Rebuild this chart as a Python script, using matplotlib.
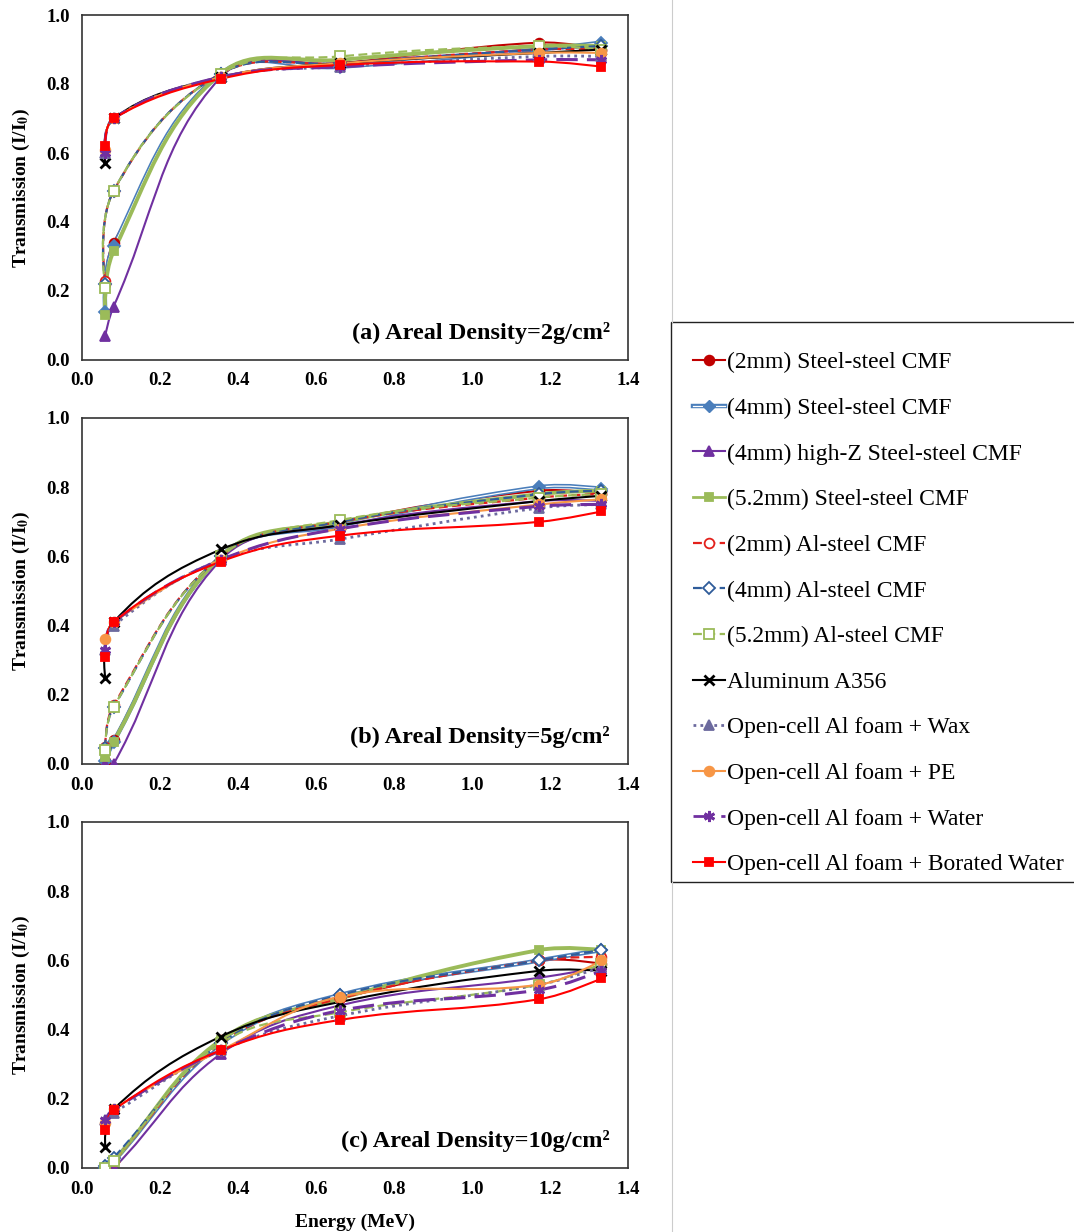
import numpy as np
import matplotlib.pyplot as plt
from matplotlib.path import Path
from matplotlib.patches import PathPatch, Rectangle
from matplotlib.lines import Line2D
from matplotlib.legend_handler import HandlerTuple

plt.rcParams['font.family'] = ['Liberation Serif', 'DejaVu Serif']
plt.rcParams['mathtext.fontset'] = 'stix'

# gamma energies (MeV)
energy = [0.0595, 0.081, 0.356, 0.662, 1.173, 1.332]

names = ['(2mm) Steel-steel CMF', '(4mm) Steel-steel CMF',
         '(4mm) high-Z Steel-steel CMF', '(5.2mm) Steel-steel CMF',
         '(2mm) Al-steel CMF', '(4mm) Al-steel CMF', '(5.2mm) Al-steel CMF',
         'Aluminum A356', 'Open-cell Al foam + Wax', 'Open-cell Al foam + PE',
         'Open-cell Al foam + Water', 'Open-cell Al foam + Borated Water']

# transmission I/I0, areal density 2 g/cm2
t2_ss2 = [0.22, 0.34, 0.83, 0.86, 0.92, 0.90]
t2_ss4 = [0.14, 0.33, 0.83, 0.85, 0.90, 0.92]
t2_hz4 = [0.07, 0.155, 0.82, 0.86, 0.90, 0.91]
t2_ss52 = [0.13, 0.315, 0.83, 0.87, 0.91, 0.91]
t2_al2 = [0.23, 0.49, 0.83, 0.86, 0.90, 0.90]
t2_al4 = [0.22, 0.49, 0.83, 0.86, 0.90, 0.91]
t2_al52 = [0.21, 0.49, 0.83, 0.88, 0.91, 0.90]
t2_a356 = [0.57, 0.70, 0.82, 0.86, 0.89, 0.90]
t2_wax = [0.60, 0.70, 0.82, 0.85, 0.88, 0.88]
t2_pe = [0.61, 0.70, 0.82, 0.86, 0.89, 0.89]
t2_water = [0.60, 0.70, 0.82, 0.85, 0.87, 0.87]
t2_boron = [0.62, 0.70, 0.815, 0.855, 0.865, 0.85]

# 5 g/cm2
t5_ss2 = [0.01, 0.07, 0.60, 0.70, 0.79, 0.78]
t5_ss4 = [0.01, 0.065, 0.60, 0.69, 0.80, 0.795]
t5_hz4 = [0.0, 0.0, 0.59, 0.69, 0.76, 0.76]
t5_ss52 = [0.02, 0.065, 0.60, 0.70, 0.78, 0.79]
t5_al2 = [0.05, 0.17, 0.60, 0.70, 0.77, 0.78]
t5_al4 = [0.045, 0.165, 0.60, 0.70, 0.78, 0.79]
t5_al52 = [0.04, 0.165, 0.60, 0.705, 0.77, 0.78]
t5_a356 = [0.25, 0.41, 0.62, 0.69, 0.76, 0.775]
t5_wax = [0.33, 0.40, 0.59, 0.65, 0.74, 0.75]
t5_pe = [0.36, 0.41, 0.59, 0.68, 0.75, 0.765]
t5_water = [0.33, 0.41, 0.59, 0.68, 0.745, 0.75]
t5_boron = [0.31, 0.41, 0.585, 0.66, 0.70, 0.73]

# 10 g/cm2
t10_ss2 = [0.0, 0.02, 0.37, 0.49, 0.60, 0.59]
t10_ss4 = [0.0, 0.02, 0.36, 0.50, 0.60, 0.63]
t10_hz4 = [0.0, 0.0, 0.33, 0.47, 0.55, 0.58]
t10_ss52 = [0.0, 0.02, 0.37, 0.49, 0.63, 0.63]
t10_al2 = [0.0, 0.02, 0.36, 0.49, 0.60, 0.61]
t10_al4 = [0.005, 0.03, 0.36, 0.50, 0.60, 0.63]
t10_al52 = [0.0, 0.02, 0.36, 0.45, 0.53, 0.59]
t10_a356 = [0.062, 0.17, 0.38, 0.48, 0.57, 0.57]
t10_wax = [0.14, 0.16, 0.34, 0.44, 0.53, 0.58]
t10_pe = [0.13, 0.17, 0.34, 0.495, 0.53, 0.60]
t10_water = [0.14, 0.17, 0.34, 0.455, 0.515, 0.57]
t10_boron = [0.11, 0.168, 0.34, 0.428, 0.488, 0.548]

panels = [
    ('(a) Areal Density=2g/cm\u00b2', [t2_ss2, t2_ss4, t2_hz4, t2_ss52, t2_al2, t2_al4,
                                      t2_al52, t2_a356, t2_wax, t2_pe, t2_water, t2_boron]),
    ('(b) Areal Density=5g/cm\u00b2', [t5_ss2, t5_ss4, t5_hz4, t5_ss52, t5_al2, t5_al4,
                                      t5_al52, t5_a356, t5_wax, t5_pe, t5_water, t5_boron]),
    ('(c) Areal Density=10g/cm\u00b2', [t10_ss2, t10_ss4, t10_hz4, t10_ss52, t10_al2, t10_al4,
                                       t10_al52, t10_a356, t10_wax, t10_pe, t10_water, t10_boron]),
]

# color, linestyle, linewidth, marker, marker face, marker size
styles = [
    ('#C00000', '-', 1.5, 'o', None, 7),
    ('#4A7EBB', 'double', 3.2, 'D', None, 6),
    ('#7030A0', '-', 1.5, '^', None, 7),
    ('#9BBB59', '-', 2.8, 's', None, 6),
    ('#E3201B', (0, (4, 2)), 1.6, 'o', 'white', 7),
    ('#2F5C9A', (0, (4, 2)), 1.6, 'D', 'white', 6),
    ('#9BBB59', (0, (4, 2)), 1.6, 's', 'white', 7),
    ('#000000', '-', 1.5, 'x', None, 7),
    ('#6C6A9E', (0, (1, 1.5)), 2.0, '^', None, 7),
    ('#F79646', '-', 1.5, 'o', None, 7),
    ('#7030A0', (0, (7, 3)), 2.2, (6, 2, 0), None, 8),
    ('#FF0000', '-', 1.5, 's', None, 6),
]

XS = 390.0 / 345.0  # x/y pixel ratio of the panels


def smooth_path(x, y, t=0.4):
    # excel-like smoothed line: bezier segments through the data points
    pts = np.column_stack([np.asarray(x, float) * XS, np.asarray(y, float)])
    n = len(pts)
    cin = pts.copy()
    cout = pts.copy()
    for i in range(1, n - 1):
        p0, p1, p2 = pts[i - 1], pts[i], pts[i + 1]
        d01 = np.hypot(*(p1 - p0))
        d12 = np.hypot(*(p2 - p1))
        fa = t * d01 / (d01 + d12)
        fb = t * d12 / (d01 + d12)
        cin[i] = p1 - fa * (p2 - p0)
        cout[i] = p1 + fb * (p2 - p0)
    verts = [pts[0]]
    codes = [Path.MOVETO]
    for i in range(n - 1):
        verts += [cout[i], cin[i + 1], pts[i + 1]]
        codes += [Path.CURVE4] * 3
    verts = np.array(verts)
    verts[:, 0] /= XS
    return Path(verts, codes)


fig = plt.figure(figsize=(10.74, 12.32), dpi=100)
W, H = 1074.0, 1232.0
boxes = [(15, 360), (418, 764), (822, 1168)]
handles = None

for (title, series), (top, bot) in zip(panels, boxes):
    ax = fig.add_axes([82 / W, 1 - bot / H, (628 - 82) / W, (bot - top) / H])
    hs = []
    for vals, (col, ls, lw, mk, mfc, ms), name in zip(series, styles, names):
        p = smooth_path(energy, vals)
        if ls == 'double':
            ax.add_patch(PathPatch(p, fill=False, ec=col, lw=lw, zorder=2))
            ax.add_patch(PathPatch(p, fill=False, ec='white', lw=0.9, zorder=2))
        else:
            ax.add_patch(PathPatch(p, fill=False, ec=col, lw=lw, ls=ls, zorder=2))
        face = col if mfc is None else mfc
        mew = 2.0 if mk == 'x' or isinstance(mk, tuple) else 1.3
        ax.plot(energy, vals, ls='none', marker=mk, ms=ms, mfc=face, mec=col,
                mew=mew, zorder=3)
        if ls == 'double':
            h = (Line2D([], [], color=col, lw=lw),
                 Line2D([], [], color='white', lw=0.9),
                 Line2D([], [], ls='none', marker=mk, ms=ms, mfc=face, mec=col))
        else:
            h = Line2D([], [], color=col, lw=min(lw, 2.0), ls=ls, marker=mk, ms=ms,
                       mfc=face, mec=col, mew=mew)
        hs.append(h)
    handles = hs

    ax.set_xlim(0, 1.4)
    ax.set_ylim(0, 1.0)
    ax.set_xticks(np.arange(0, 1.41, 0.2))
    ax.set_yticks(np.arange(0, 1.01, 0.2))
    ax.xaxis.set_major_formatter(plt.FormatStrFormatter('%.1f'))
    ax.yaxis.set_major_formatter(plt.FormatStrFormatter('%.1f'))
    ax.tick_params(length=0, labelsize=13.5, pad=9)
    for lab in ax.get_xticklabels() + ax.get_yticklabels():
        lab.set_fontweight('bold')
    for sp in ax.spines.values():
        sp.set_linewidth(1.2)
        sp.set_color('#333333')
    ax.set_ylabel(r'Transmission (I/I$_\mathbf{0}$)', fontsize=14, fontweight='bold',
                  labelpad=10)
    ax.text(0.967, 0.062, title, transform=ax.transAxes, ha='right', va='baseline',
            fontsize=17.5, fontweight='bold')

ax.set_xlabel('Energy (MeV)', fontsize=14, fontweight='bold', labelpad=12)

# legend box drawn on its own so the padding matches
fig.add_artist(Rectangle((670.5 / W, 1 - 882 / H), 410 / W, 560 / H, transform=fig.transFigure,
                         fill=False, ec='#222222', lw=1.0))
leg = fig.legend(handles, names, loc='upper left', bbox_to_anchor=(693 / W, 1 - 352 / H),
                 fontsize=17, frameon=False, handlelength=1.35, handletextpad=0.1,
                 labelspacing=1.02, borderpad=0, borderaxespad=0,
                 handler_map={tuple: HandlerTuple(ndivide=1, pad=0)})

fig.add_artist(Line2D([672 / W, 672 / W], [1 - 322 / H, 1.0], color='#cccccc', lw=0.8))
fig.add_artist(Line2D([672 / W, 672 / W], [0, 1 - 882 / H], color='#cccccc', lw=0.8))

fig.savefig('out.png', dpi=100, facecolor='white')
